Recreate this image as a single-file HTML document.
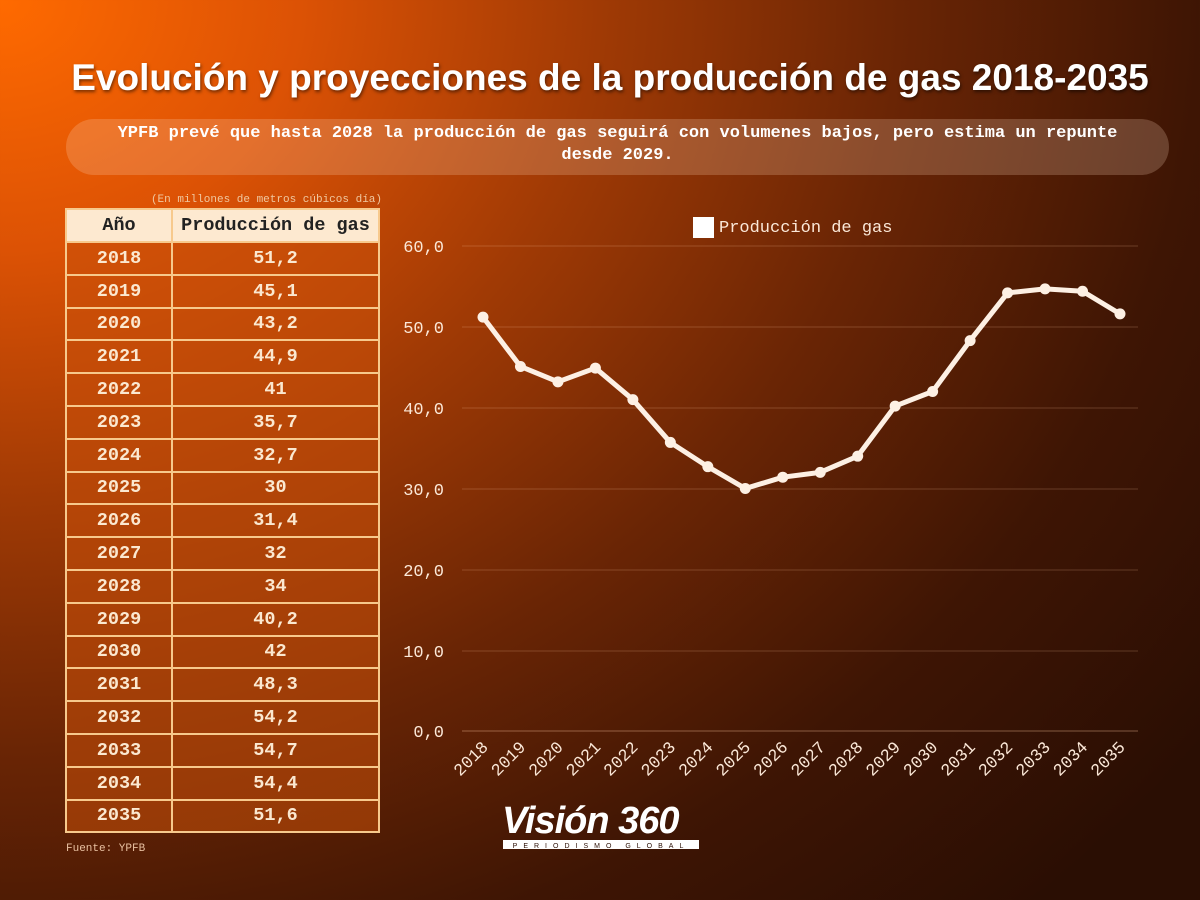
<!DOCTYPE html>
<html><head><meta charset="utf-8"><style>
html,body{margin:0;padding:0}
body{width:1200px;height:900px;position:relative;overflow:hidden;font-family:"Liberation Mono",monospace;
background:radial-gradient(ellipse 1500px 1250px at 0px 0px,#ff6a00 0%,#dc5205 20%,#a03a05 40%,#6a2505 60%,#3e1504 80%,#2a0e03 100%);}
.title{position:absolute;left:0;width:1220px;top:57px;text-align:center;font-family:"Liberation Sans",sans-serif;font-weight:bold;font-size:37px;color:#fff;text-shadow:1px 2px 3px rgba(0,0,0,.5)}
.sub{position:absolute;left:66px;top:119px;width:1103px;height:56px;border-radius:28px;background:rgba(255,220,190,.22);color:#fff;font-weight:bold;font-size:17px;text-align:center;line-height:22px;padding-top:4px;box-sizing:border-box}
.unit{position:absolute;left:60px;width:322px;text-align:right;top:194px;font-size:11px;color:#f0c8a0}
table{position:absolute;left:65px;top:208px;border-collapse:collapse;font-size:18.5px;font-weight:bold}
td{border:2px solid #f7c98c;height:30.8px;text-align:center;color:#fbe8d0;background:rgba(200,80,10,.55);padding:0}
tr.h td{background:#fde9d0;color:#222;height:31px}
.src{position:absolute;left:66px;top:843px;font-size:11px;color:#e8c0a0}
</style></head><body>
<div class="title">Evolución y proyecciones de la producción de gas 2018-2035</div>
<div class="sub">YPFB prevé que hasta 2028 la producción de gas seguirá con volumenes bajos, pero estima un repunte<br>desde 2029.</div>
<div class="unit">(En millones de metros cúbicos día)</div>
<table>
<tr class="h"><td style="width:104px">Año</td><td style="width:205px">Producción de gas</td></tr>
<tr><td>2018</td><td>51,2</td></tr><tr><td>2019</td><td>45,1</td></tr><tr><td>2020</td><td>43,2</td></tr><tr><td>2021</td><td>44,9</td></tr><tr><td>2022</td><td>41</td></tr><tr><td>2023</td><td>35,7</td></tr><tr><td>2024</td><td>32,7</td></tr><tr><td>2025</td><td>30</td></tr><tr><td>2026</td><td>31,4</td></tr><tr><td>2027</td><td>32</td></tr><tr><td>2028</td><td>34</td></tr><tr><td>2029</td><td>40,2</td></tr><tr><td>2030</td><td>42</td></tr><tr><td>2031</td><td>48,3</td></tr><tr><td>2032</td><td>54,2</td></tr><tr><td>2033</td><td>54,7</td></tr><tr><td>2034</td><td>54,4</td></tr><tr><td>2035</td><td>51,6</td></tr>
</table>
<div class="src">Fuente: YPFB</div>
<svg width="1200" height="900" style="position:absolute;left:0;top:0" font-family="Liberation Mono, monospace">
<g stroke="rgba(255,200,160,.22)" stroke-width="1">
<line x1="462" x2="1138" y1="246" y2="246"/><line x1="462" x2="1138" y1="327" y2="327"/><line x1="462" x2="1138" y1="408" y2="408"/><line x1="462" x2="1138" y1="489" y2="489"/><line x1="462" x2="1138" y1="570" y2="570"/><line x1="462" x2="1138" y1="651" y2="651"/><line x1="462" x2="1138" y1="731" y2="731" stroke="rgba(255,200,160,.4)"/>
</g>
<g fill="#fbe8d8" font-size="17" text-anchor="end">
<text x="444" y="252">60,0</text><text x="444" y="333">50,0</text><text x="444" y="414">40,0</text><text x="444" y="495">30,0</text><text x="444" y="576">20,0</text><text x="444" y="657">10,0</text><text x="444" y="737">0,0</text>
</g>
<rect x="693" y="217" width="21" height="21" fill="#fff"/>
<text x="719" y="232" fill="#fbe8d8" font-size="17">Producción de gas</text>
<g id="pts"></g>
<g id="xl" fill="#fbe8d8" font-size="17" text-anchor="end"></g>
<text x="502" y="833" fill="#fff" font-family="Liberation Sans,sans-serif" font-weight="bold" font-style="italic" font-size="38" letter-spacing="-1">Visión 360</text>
<rect x="503" y="840" width="196" height="9" fill="#fff"/>
<text x="601" y="848" fill="#2a0e03" font-family="Liberation Sans,sans-serif" font-size="7" text-anchor="middle" letter-spacing="6">PERIODISMO GLOBAL</text>
</svg>
<script>
var v=[51.2,45.1,43.2,44.9,41,35.7,32.7,30,31.4,32,34,40.2,42,48.3,54.2,54.7,54.4,51.6];
var ns="http://www.w3.org/2000/svg",g=document.getElementById('pts'),xl=document.getElementById('xl');
var pts=v.map(function(d,i){return [483+i*37.47,731-d*8.083];});
var p=document.createElementNS(ns,'polyline');p.setAttribute('points',pts.map(function(a){return a.join(',')}).join(' '));
p.setAttribute('fill','none');p.setAttribute('stroke','#fdf0e4');p.setAttribute('stroke-width','5');p.setAttribute('stroke-linejoin','round');g.appendChild(p);
pts.forEach(function(a,i){var c=document.createElementNS(ns,'circle');c.setAttribute('cx',a[0]);c.setAttribute('cy',a[1]);c.setAttribute('r','5.5');c.setAttribute('fill','#fdf0e4');g.appendChild(c);
var t=document.createElementNS(ns,'text');t.setAttribute('transform','translate('+(a[0]+6)+',748) rotate(-45)');t.textContent=2018+i;xl.appendChild(t);});
</script>
</body></html>
